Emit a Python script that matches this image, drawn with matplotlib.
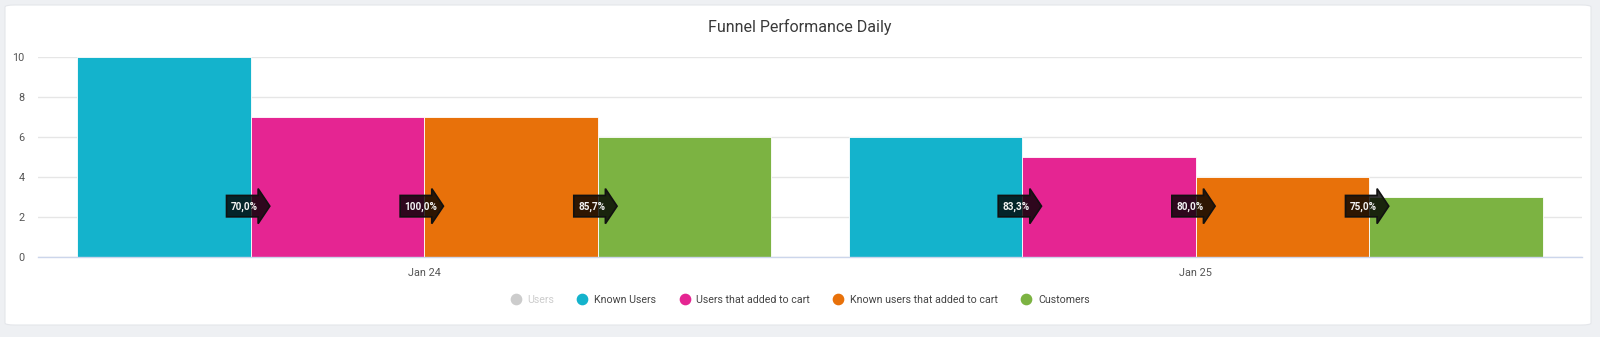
import matplotlib
matplotlib.use("Agg")
import matplotlib.pyplot as plt
import matplotlib.transforms as mtransforms
from matplotlib.patches import FancyBboxPatch, Polygon
from matplotlib.lines import Line2D

plt.rcParams['font.family'] = ['Roboto', 'DejaVu Sans']

title = "Funnel Performance Daily"
categories = ["Jan 24", "Jan 25"]
series_names = ["Users", "Known Users", "Users that added to cart",
                "Known users that added to cart", "Customers"]
series_colors = ["#cccccc", "#14b3cc", "#e52592", "#e8710a", "#7cb342"]
series_visible = [False, True, True, True, True]
known_users = [10, 6]
users_added_cart = [7, 5]
known_users_added_cart = [7, 4]
customers = [6, 3]
yticks = [0, 2, 4, 6, 8, 10]

visible_series = [known_users, users_added_cart, known_users_added_cart, customers]
visible_colors = series_colors[1:]

W, H = 1600, 337
fig = plt.figure(figsize=(W / 100, H / 100), dpi=100)
fig.patch.set_facecolor("#eef0f3")

# card
card = FancyBboxPatch((5 / W, 12 / H), 1586 / W, 320 / H,
                      boxstyle="round,pad=0,rounding_size=0.006",
                      transform=fig.transFigure, facecolor="white",
                      edgecolor="#e4e6ea", linewidth=0.8, zorder=-10)
fig.patches.append(card)

ax = fig.add_axes([38.3 / W, (H - 257.3) / H, (1581.7 - 38.3) / W, (257.3 - 56.7) / H])
ax.set_facecolor("none")
ax.set_zorder(1)

n = len(visible_series)
group_width = 0.9
bw = group_width / n
for i, (vals, col) in enumerate(zip(visible_series, visible_colors)):
    xs = [c - group_width / 2 + bw * (i + 0.5) for c in range(len(categories))]
    ax.bar(xs, vals, width=bw, color=col, edgecolor="white", linewidth=0.6, zorder=2)

ax.set_xlim(-0.5, len(categories) - 0.5)
ax.set_ylim(0, 10)
ax.set_yticks(yticks)
ax.set_xticks(range(len(categories)))
ax.set_xticklabels(categories)
ax.yaxis.grid(True, color="#e6e6e6", linewidth=1, zorder=0)
ax.set_axisbelow(True)
for s in ["top", "right", "left"]:
    ax.spines[s].set_visible(False)
ax.spines["bottom"].set_color("#ccd6eb")
ax.spines["bottom"].set_linewidth(1)
ax.tick_params(axis="y", length=0, labelsize=7.8, labelcolor="#555555", pad=10)
ax.tick_params(axis="x", length=0, labelsize=7.8, labelcolor="#555555", pad=8)

# conversion arrows
arrow_y = 2.55
px = 1 / 100.0
shape = [(-24, 10.7), (7.6, 10.7), (7.6, 17.5), (19.3, 0), (7.6, -17.5),
         (7.6, -10.7), (-24, -10.7)]
shape_in = [(x * px, y * px) for x, y in shape]
for c in range(len(categories)):
    for i in range(n - 1):
        xb = c - group_width / 2 + bw * (i + 1)
        prev = visible_series[i][c]
        nxt = visible_series[i + 1][c]
        pct = nxt / prev * 100
        label = f"{pct:.1f}%".replace(".", ",")
        tr = fig.dpi_scale_trans + mtransforms.ScaledTranslation(xb, arrow_y, ax.transData)
        poly = Polygon(shape_in, closed=True, transform=tr, facecolor=(0, 0, 0, 0.8),
                       edgecolor="#111111", linewidth=1.2, zorder=5)
        ax.add_patch(poly)
        ax.text(-19.5 * px, -0.5 * px, label, transform=tr, ha="left", va="center",
                fontsize=7.2, fontweight="bold", color="#f2f2f2", zorder=6)

# title
fig.text(0.5, (H - 26.5) / H, title, ha="center", va="center", fontsize=11.5, color="#3a3a3a")

# legend
handles = []
for name, col, vis in zip(series_names, series_colors, series_visible):
    handles.append(Line2D([], [], marker="o", linestyle="none", markersize=7.4,
                          markerfacecolor=col, markeredgecolor=col, label=name))
leg = fig.legend(handles=handles, loc="center", bbox_to_anchor=(0.5, (H - 300) / H),
                 ncol=5, frameon=False, fontsize=7.7, handletextpad=0.6,
                 columnspacing=2.15, handlelength=1.0)
for t, vis in zip(leg.get_texts(), series_visible):
    t.set_color("#444444" if vis else "#cccccc")

fig.savefig("out.png", dpi=100, facecolor=fig.get_facecolor())
